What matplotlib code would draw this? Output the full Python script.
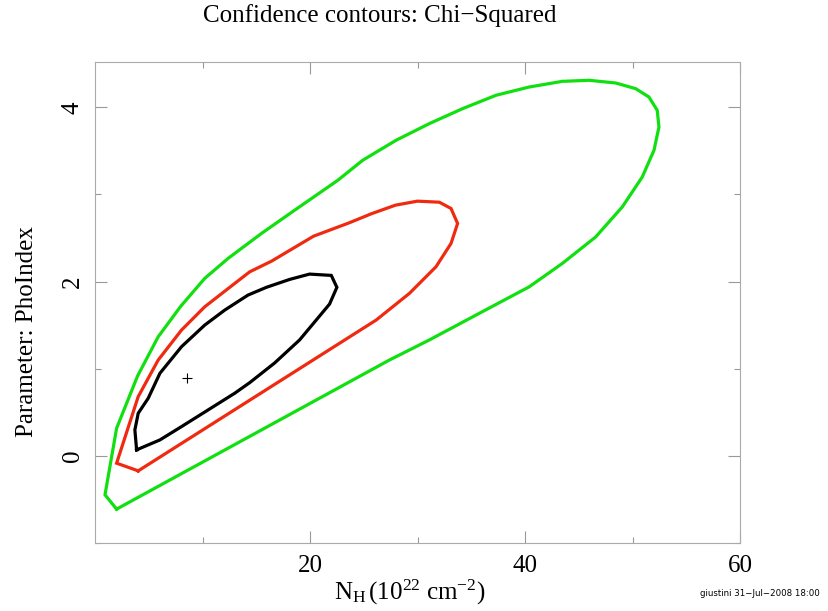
import matplotlib
matplotlib.use("Agg")
import matplotlib.pyplot as plt
from matplotlib.ticker import FixedLocator

# contour outlines (NH in 1e22 cm^-2, PhoIndex)
green_x = [2.01, 27.39, 31.10, 35.75, 40.39, 43.48, 46.58, 49.05, 50.91, 52.00,
           52.46, 52.30, 51.53, 50.30, 48.44, 45.96, 43.48, 40.39, 37.30, 34.20,
           31.10, 28.01, 24.91, 22.59, 18.57, 15.48, 12.38, 10.21, 7.99, 5.88,
           3.96, 2.01, 0.93, 2.01]
green_y = [-0.611, 1.100, 1.330, 1.636, 1.940, 2.209, 2.513, 2.857, 3.201, 3.507,
           3.774, 3.966, 4.118, 4.214, 4.279, 4.310, 4.298, 4.233, 4.138, 3.985,
           3.813, 3.622, 3.393, 3.163, 2.819, 2.552, 2.266, 2.037, 1.719, 1.367,
           0.917, 0.317, -0.447, -0.611]

red_x = [4.02, 26.16, 29.25, 31.72, 33.12, 33.73, 33.12, 32.03, 29.99, 27.95,
         25.72, 23.68, 20.33, 16.43, 14.39, 13.00, 10.21, 8.05, 5.88, 4.02,
         2.01, 4.02]
red_y = [-0.172, 1.559, 1.865, 2.170, 2.438, 2.667, 2.839, 2.911, 2.923, 2.877,
         2.779, 2.676, 2.521, 2.235, 2.112, 1.979, 1.711, 1.444, 1.100, 0.680,
         -0.084, -0.172]

black_x = [3.87, 6.04, 8.05, 10.52, 13.00, 14.39, 16.71, 19.03, 20.58, 21.82,
           22.50, 21.98, 19.96, 18.11, 15.94, 14.23, 12.07, 10.21, 8.05, 6.04,
           4.95, 4.02, 3.71, 3.87]
black_y = [0.069, 0.183, 0.336, 0.527, 0.719, 0.840, 1.066, 1.330, 1.559, 1.742,
           1.934, 2.071, 2.086, 2.025, 1.934, 1.845, 1.673, 1.501, 1.253, 0.948,
           0.661, 0.489, 0.298, 0.069]

best_x, best_y = [8.53], [0.897]

x_major = [20, 40, 60]
x_minor = [10, 30, 50]
y_major = [0, 2, 4]
y_minor = [-1, 1, 3]

plt.rcParams["font.family"] = ["Liberation Serif", "DejaVu Serif"]
plt.rcParams["mathtext.fontset"] = "custom"
plt.rcParams["mathtext.rm"] = "Liberation Serif"
plt.rcParams["mathtext.it"] = "Liberation Serif:italic"

fig = plt.figure(figsize=(8.29, 6.11), dpi=100)
ax = fig.add_axes([95 / 829, 1 - 543 / 611, 645 / 829, 481 / 611])

ax.plot(green_x, green_y, color="#10e010", lw=2.3, solid_joinstyle="miter")
ax.plot(red_x, red_y, color="#f02a10", lw=2.3, solid_joinstyle="miter")
ax.plot(black_x, black_y, color="black", lw=2.3, solid_joinstyle="miter")
ax.plot(best_x, best_y, "+", color="black", ms=7, mew=0.8)

ax.set_xlim(0, 60)
ax.set_ylim(-1.0, 4.52)

ax.xaxis.set_major_locator(FixedLocator(x_major))
ax.xaxis.set_minor_locator(FixedLocator(x_minor))
ax.yaxis.set_major_locator(FixedLocator(y_major))
ax.yaxis.set_minor_locator(FixedLocator(y_minor))
ax.tick_params(which="both", direction="in", top=True, right=True,
               color="#999999", width=0.8, labelsize=18)
ax.tick_params(axis="x", pad=9)
ax.tick_params(axis="y", pad=8)
ax.tick_params(which="major", length=8.5)
ax.tick_params(which="minor", length=4.3)
for lab in ax.get_yticklabels():
    lab.set_rotation(90)
    lab.set_va("center")
for sp in ax.spines.values():
    sp.set_color("#aaaaaa")
    sp.set_linewidth(0.8)

fig.text(380 / 829, 1 - 16 / 611, "Confidence contours: Chi\u2212Squared",
         ha="center", va="center", fontsize=18)
fig.text(410 / 829, 1 - 592 / 611, r"$\mathrm{N_H\,(10^{22}\ cm^{-2})}$",
         ha="center", va="center", fontsize=18)
fig.text(27 / 829, 1 - 332 / 611, "Parameter: PhoIndex", rotation=90,
         ha="center", va="center", fontsize=18)
fig.text(820 / 829, 1 - 593 / 611, "giustini 31\u2212Jul\u22122008 18:00",
         ha="right", va="center", fontsize=6.2, family="DejaVu Sans")

fig.savefig("out.png", dpi=100, facecolor="white")
